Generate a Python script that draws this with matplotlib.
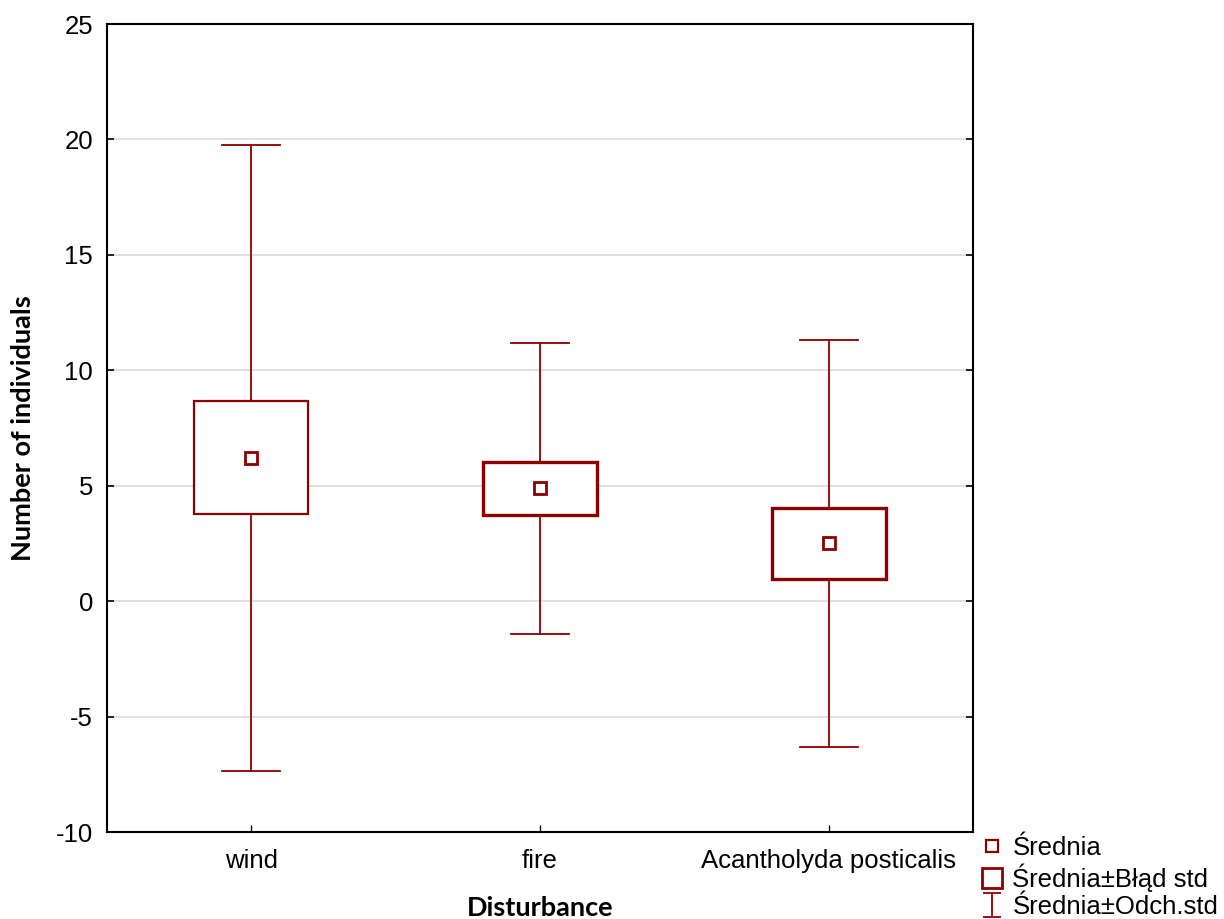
import matplotlib
matplotlib.use("Agg")
import matplotlib.pyplot as plt
from matplotlib.lines import Line2D
from matplotlib.path import Path
from matplotlib.patches import Rectangle

categories = ["wind", "fire", "Acantholyda posticalis"]
means = [6.2, 4.9, 2.52]
se_low = [3.77, 3.75, 0.96]
se_high = [8.67, 6.03, 4.05]
sd_low = [-7.36, -1.43, -6.32]
sd_high = [19.75, 11.2, 11.3]
yticks = [-10, -5, 0, 5, 10, 15, 20, 25]

red = "#8b0000"
plt.rcParams['font.family'] = ['Liberation Sans', 'DejaVu Sans']

fig = plt.figure(figsize=(12.24, 9.19), dpi=100)
ax = fig.add_axes([107/1224, 87/919, 866/1224, 808/919])
ax.set_xlim(-0.5, 2.5)
ax.set_ylim(-10, 25)

box_w = 0.395
cap_w = 0.2
box_lw = [1.6, 2.4, 2.4]
for i, cat in enumerate(categories):
    ax.plot([i, i], [se_high[i], sd_high[i]], color=red, lw=1.3, zorder=3)
    ax.plot([i, i], [sd_low[i], se_low[i]], color=red, lw=1.3, zorder=3)
    ax.plot([i - cap_w/2, i + cap_w/2], [sd_high[i]]*2, color=red, lw=1.3, zorder=3)
    ax.plot([i - cap_w/2, i + cap_w/2], [sd_low[i]]*2, color=red, lw=1.3, zorder=3)
    ax.add_patch(Rectangle((i - box_w/2, se_low[i]), box_w, se_high[i] - se_low[i],
                           facecolor="white", edgecolor=red, lw=box_lw[i], zorder=4))
    ax.plot([i], [means[i]], marker="s", ms=9, mfc="white", mec=red, mew=2, zorder=5)

ax.set_yticks(yticks)
ax.set_yticklabels([str(v) for v in yticks])
ax.set_xticks(range(len(categories)))
ax.set_xticklabels(categories)
ax.yaxis.grid(True, color="#d9d9d9", lw=1.2)
ax.set_axisbelow(True)
ax.tick_params(axis="y", direction="in", left=True, right=True, length=5, width=1.2,
               labelsize=18.5, pad=10)
ax.tick_params(axis="x", direction="in", bottom=True, top=False, length=5, width=1.0,
               labelsize=18.5, pad=12)
for s in ax.spines.values():
    s.set_linewidth(1.5)
    s.set_color("black")

ax.set_xlabel("Disturbance", fontsize=19.5, fontweight="bold", family=["Lato", "DejaVu Sans"], labelpad=17)
ax.set_ylabel("Number of individuals", fontsize=19.5, fontweight="bold", family=["Lato", "DejaVu Sans"], labelpad=15)

whisk = Path([(-0.8, 1), (0.8, 1), (0, 1), (0, -1), (-0.8, -1), (0.8, -1)],
             [Path.MOVETO, Path.LINETO, Path.MOVETO, Path.LINETO, Path.MOVETO, Path.LINETO])
handles = [
    Line2D([], [], ls="none", marker="s", ms=9, mfc="white", mec=red, mew=1.6),
    Line2D([], [], ls="none", marker="s", ms=15, mfc="white", mec=red, mew=2),
    Line2D([], [], ls="none", marker=whisk, ms=17, mfc="none", mec=red, mew=1.3),
]
labels = ["Średnia", "Średnia±Błąd std", "Średnia±Odch.std"]
fig.legend(handles, labels, loc="lower left", bbox_to_anchor=(970/1224, -0.011),
           frameon=False, fontsize=18.5, handlelength=0.9, handletextpad=0.35,
           labelspacing=0.12, borderaxespad=0.0)

fig.savefig("out.png", dpi=100)
